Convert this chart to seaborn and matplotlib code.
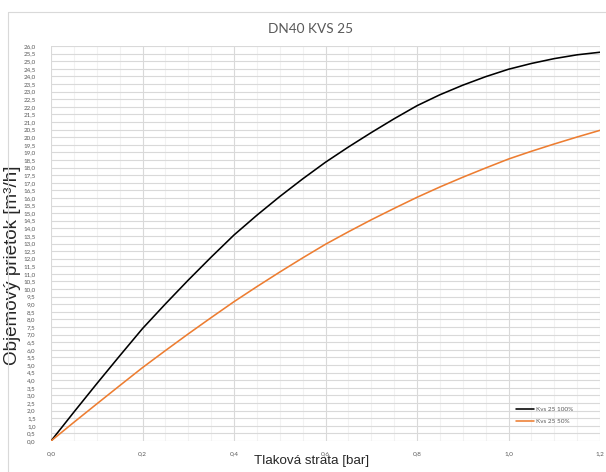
import numpy as np
import pandas as pd
import matplotlib
matplotlib.use('Agg')
import matplotlib.pyplot as plt
from matplotlib.lines import Line2D
from matplotlib.ticker import MultipleLocator, FuncFormatter
import seaborn as sns

# tlakova strata [bar] a prietoky odcitane z grafu (krok 0,05)
tlak = [0.0, 0.05, 0.1, 0.15, 0.2, 0.25, 0.3, 0.35, 0.4, 0.45, 0.5, 0.55, 0.6,
        0.65, 0.7, 0.75, 0.8, 0.85, 0.9, 0.95, 1.0, 1.05, 1.1, 1.15, 1.2]
kvs_100 = [0.0, 1.9, 3.77, 5.6, 7.4, 9.02, 10.59, 12.1, 13.56, 14.86, 16.09, 17.25, 18.35,
           19.35, 20.3, 21.21, 22.07, 22.79, 23.42, 23.98, 24.47, 24.85, 25.17, 25.42, 25.59]
kvs_50 = [0.0, 1.23, 2.44, 3.64, 4.83, 5.95, 7.05, 8.12, 9.17, 10.16, 11.12, 12.05, 12.95,
          13.77, 14.56, 15.31, 16.04, 16.72, 17.36, 17.97, 18.56, 19.07, 19.55, 20.01, 20.45]
nazvy = ['Kvs 25 100%', 'Kvs 25 50%']
farby = {'Kvs 25 100%': '#000000', 'Kvs 25 50%': '#ED7D31'}

df = pd.DataFrame({
    'tlak': tlak + tlak,
    'prietok': kvs_100 + kvs_50,
    'serie': [nazvy[0]] * len(tlak) + [nazvy[1]] * len(tlak),
})

sns.set_style('white')
plt.rcParams['font.family'] = ['Lato', 'DejaVu Sans']

fig = plt.figure(figsize=(6.06, 4.72), dpi=100)
ax = fig.add_axes([51 / 606, 1 - 441 / 472, 549 / 606, 395 / 472])

sns.lineplot(data=df, x='tlak', y='prietok', hue='serie', palette=farby,
             linewidth=1.15, ax=ax, legend=True, sort=False)

ax.set_xlim(0, 1.2)
ax.set_ylim(0, 26)
ax.xaxis.set_major_locator(MultipleLocator(0.2))
ax.xaxis.set_minor_locator(MultipleLocator(0.05))
ax.yaxis.set_major_locator(MultipleLocator(0.5))

ciarka = FuncFormatter(lambda v, p: '{:.1f}'.format(v).replace('.', ','))
ax.xaxis.set_major_formatter(ciarka)
ax.yaxis.set_major_formatter(ciarka)

ax.grid(True, which='major', axis='both', color='#d9d9d9', linewidth=0.8)
ax.grid(True, which='minor', axis='x', color='#f2f2f2', linewidth=0.8)
ax.set_axisbelow(True)
for s in ax.spines.values():
    s.set_visible(False)

ax.tick_params(axis='y', which='both', length=0, pad=11, labelsize=4.5, labelcolor='#595959')
ax.tick_params(axis='x', which='both', length=0, pad=7, labelsize=4.6, labelcolor='#595959')

ax.set_xlabel('Tlaková strata [bar]', fontsize=9.6, family=['Liberation Sans', 'DejaVu Sans'])
ax.set_ylabel('Objemový prietok [m³/h]', fontsize=13.6, family=['Liberation Sans', 'DejaVu Sans'])
ax.xaxis.set_label_coords(0.4745, -0.035)
ax.yaxis.set_label_coords(-0.054, 0.445)

fig.text(310 / 606, 1 - 29 / 472, 'DN40 KVS 25', ha='center', va='center',
         fontsize=9.8, color='#595959')

leg = ax.legend(loc='center left', bbox_to_anchor=(0.847, 0.065), frameon=False,
                fontsize=4.6, handlelength=2.8, handletextpad=0.3, labelspacing=1.0,
                borderpad=0, borderaxespad=0)
for t in leg.get_texts():
    t.set_color('#595959')

# ramik oblasti grafu
fig.add_artist(Line2D([8 / 606, 1.0], [1 - 12 / 472, 1 - 12 / 472], color='#d9d9d9', linewidth=0.8))
fig.add_artist(Line2D([8 / 606, 8 / 606], [0.0, 1 - 12 / 472], color='#d9d9d9', linewidth=0.8))

fig.savefig('out.png', dpi=100, facecolor='white')
